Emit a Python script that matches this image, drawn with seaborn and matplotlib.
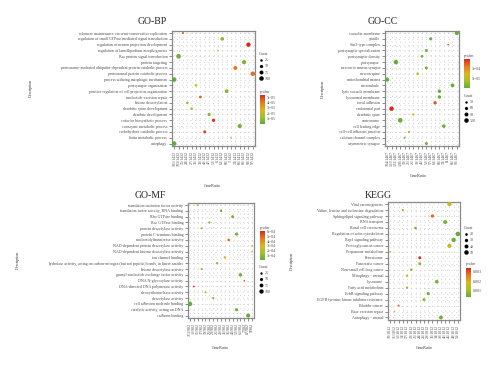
import numpy as np
import pandas as pd
import matplotlib
matplotlib.use("Agg")
import matplotlib.pyplot as plt
import seaborn as sns
from matplotlib.colors import LinearSegmentedColormap, Normalize
from matplotlib.cm import ScalarMappable
from matplotlib.lines import Line2D

# ---- GO-BP ----
bp_terms = [
    "telomere maintenance via semi-conservative replication",
    "regulation of small GTPase mediated signal transduction",
    "regulation of neuron projection development",
    "regulation of lamellipodium morphogenesis",
    "Ras protein signal transduction",
    "protein targeting",
    "proteasome-mediated ubiquitin-dependent protein catabolic process",
    "proteasomal protein catabolic process",
    "process utilizing autophagic mechanism",
    "postsynapse organization",
    "positive regulation of cell projection organization",
    "nucleotide-excision repair",
    "histone deacetylation",
    "dendritic spine development",
    "dendrite development",
    "cofactor biosynthetic process",
    "coenzyme metabolic process",
    "carbohydrate catabolic process",
    "biotin metabolic process",
    "autophagy",
]
bp_counts = [15, 63, 93, 6, 103, 88, 74, 97, 101, 31, 68, 33, 24, 27, 47, 52, 86, 41, 7, 101]
bp_pvalues = [4.6e-5, 8e-6, 5.4e-5, 2.8e-5, 3e-6, 5e-6, 4.1e-5, 4.3e-5, 1e-7, 2.2e-5,
              7e-6, 4.5e-5, 9e-6, 1.1e-5, 6e-6, 5.2e-5, 4e-6, 5e-5, 1.2e-5, 1e-7]
bp_total = 1432

# ---- GO-CC ----
cc_terms = [
    "vacuolar membrane", "spindle", "Sin3-type complex", "postsynaptic specialization",
    "postsynaptic density", "postsynapse", "neuron to neuron synapse", "neuron spine",
    "mitochondrial matrix", "microtubule", "lytic vacuole membrane", "lysosomal membrane",
    "focal adhesion", "endosomal part", "dendritic spine", "centrosome", "cell leading edge",
    "cell-cell adherens junction", "calcium channel complex", "asymmetric synapse",
]
cc_counts = [98, 57, 8, 52, 45, 123, 52, 38, 104, 85, 68, 68, 63, 121, 25, 128, 74, 21, 19, 52]
cc_pvalues = [2e-6, 8e-6, 1.45e-4, 1e-5, 1.2e-5, 3e-6, 1.1e-5, 4.5e-5, 5e-6, 6e-6,
              4e-6, 4e-6, 1.3e-4, 1.5e-4, 8.5e-5, 7e-6, 9e-6, 9.5e-5, 1.5e-5, 1.2e-5]
cc_total = 1467

# ---- GO-MF ----
mf_terms = [
    "translation initiation factor activity",
    "translation factor activity, RNA binding",
    "Rho GTPase binding",
    "Rac GTPase binding",
    "protein deacetylase activity",
    "protein C-terminus binding",
    "nucleotidyltransferase activity",
    "NAD-dependent protein deacetylase activity",
    "NAD-dependent histone deacetylase activity",
    "ion channel binding",
    "hydrolase activity, acting on carbon-nitrogen (but not peptide) bonds, in linear amides",
    "histone deacetylase activity",
    "guanyl-nucleotide exchange factor activity",
    "DNA N-glycosylase activity",
    "DNA-directed DNA polymerase activity",
    "deoxyribonuclease activity",
    "deacetylase activity",
    "cell adhesion molecule binding",
    "catalytic activity, acting on DNA",
    "cadherin binding",
]
mf_counts = [15, 28, 43, 21, 17, 52, 35, 9, 9, 31, 25, 17, 61, 7, 12, 19, 23, 113, 52, 87]
mf_pvalues = [3.3e-4, 6e-5, 4e-5, 8e-5, 9e-5, 5e-5, 4.8e-4, 3.6e-4, 2.6e-4, 3.1e-4,
              1e-4, 9e-5, 3e-5, 5.6e-4, 6.2e-4, 3e-4, 1.1e-4, 1e-6, 6e-5, 2e-6]
mf_total = 982

# ---- KEGG ----
kegg_terms = [
    "Viral carcinogenesis", "Valine, leucine and isoleucine degradation",
    "Sphingolipid signaling pathway", "RNA transport", "Renal cell carcinoma",
    "Regulation of actin cytoskeleton", "Rap1 signaling pathway", "Proteoglycans in cancer",
    "Propanoate metabolism", "Peroxisome", "Pancreatic cancer", "Non-small cell lung cancer",
    "Mitophagy - animal", "Lysosome", "Fatty acid metabolism", "ErbB signaling pathway",
    "EGFR tyrosine kinase inhibitor resistance", "Bladder cancer", "Base excision repair",
    "Autophagy - animal",
]
kegg_counts = [45, 14, 31, 41, 21, 53, 49, 45, 10, 24, 24, 19, 17, 34, 17, 29, 26, 12, 11, 38]
kegg_pvalues = [0.0015, 0.0026, 0.0027, 0.0005, 0.0006, 0.0003, 0.0004, 0.0015, 0.0025, 0.0034,
                0.0007, 0.0007, 0.0019, 0.0006, 0.0008, 0.0005, 0.0008, 0.0031, 0.0013, 0.0004]
kegg_total = 1012

sns.set_style("white")
plt.rcParams["font.family"] = ["Liberation Serif", "DejaVu Serif"]

W, H = 500, 367
fig = plt.figure(figsize=(W / 100, H / 100), dpi=100)

cmap = LinearSegmentedColormap.from_list(
    "pv", ["#63ab3d", "#a7c128", "#dcb41c", "#e8791c", "#d8281b"])
SIZES = (1.2, 11.0)
TXT = "#4d4d4d"
FS = 2.9


def rect(l, t, r, b):
    return [l / W, 1 - b / H, (r - l) / W, (b - t) / H]


def dot_panel(box, terms, counts, pvals, total):
    ax = fig.add_axes(rect(*box))
    ratio = [f"{c}/{total}" for c in counts]
    df = pd.DataFrame({"Description": terms, "GeneRatio": ratio,
                       "Count": counts, "pvalue": pvals})
    levels = sorted(set(ratio))
    df["GeneRatio"] = pd.Categorical(df["GeneRatio"], categories=levels)
    df["Description"] = pd.Categorical(df["Description"], categories=terms)
    sns.scatterplot(data=df, x="GeneRatio", y="Description", hue="pvalue", size="Count",
                    palette=cmap, hue_norm=(min(pvals), max(pvals)),
                    sizes=SIZES, size_norm=(min(counts), max(counts)),
                    linewidth=0, legend=False, ax=ax, zorder=3)
    ax.set_xlim(-0.5, len(levels) - 0.5)
    ax.set_ylim(len(terms) - 1 + 0.42, -0.35)
    ax.grid(True, color="#c4c4c4", lw=0.5, ls=(0, (1.5, 5)))
    ax.set_axisbelow(True)
    for s in ax.spines.values():
        s.set_color("#8a8a8a")
        s.set_linewidth(0.9)
    ax.tick_params(axis="both", length=2, width=0.4, color="#333333",
                   labelsize=FS, labelcolor=TXT, pad=1.5,
                   bottom=True, left=True)
    ax.tick_params(axis="x", labelrotation=90)
    ax.set_xlabel("")
    ax.set_ylabel("")
    ax.xaxis.get_offset_text().set_visible(False)
    ax.yaxis.get_offset_text().set_visible(False)
    return ax


def size_legend(x, y, counts, ticks):
    lo, hi = min(counts), max(counts)
    handles = []
    for t in ticks:
        s = SIZES[0] + (t - lo) / (hi - lo) * (SIZES[1] - SIZES[0])
        handles.append(Line2D([], [], marker="o", ls="", color="black",
                              markersize=np.sqrt(s), markeredgewidth=0))
    leg = fig.legend(handles, [str(t) for t in ticks], title="Count",
                     loc="upper left", bbox_to_anchor=(x / W, 1 - y / H),
                     frameon=False, fontsize=FS, title_fontsize=FS,
                     borderpad=0, borderaxespad=0, handlelength=0.8,
                     handletextpad=0.6, labelspacing=0.55, alignment="left")
    for t in leg.get_texts():
        t.set_color(TXT)
    leg.get_title().set_color(TXT)


def p_bar(box, pvals, ticks, labels):
    l, t, r, b = box
    fig.text(l / W, 1 - (t - 1.5) / H, "pvalue", fontsize=FS, color=TXT,
             ha="left", va="bottom")
    cax = fig.add_axes(rect(l, t, r, b))
    sm = ScalarMappable(norm=Normalize(min(pvals), max(pvals)), cmap=cmap)
    cb = fig.colorbar(sm, cax=cax)
    cb.outline.set_visible(False)
    cb.set_ticks(ticks)
    cb.set_ticklabels(labels)
    cb.ax.tick_params(length=1.2, width=0.4, color="white", direction="in",
                      labelsize=FS, labelcolor=TXT, pad=1.5)
    cb.ax.yaxis.get_offset_text().set_visible(False)
    cb.ax.xaxis.get_offset_text().set_visible(False)


def panel_text(title, tx, ty, dx, dy, gx, gy):
    fig.text(tx / W, 1 - ty / H, title, fontsize=7, color="#222222", ha="center", va="center")
    fig.text(dx / W, 1 - dy / H, "Description", fontsize=FS, color="#333333",
             rotation=90, ha="center", va="center")
    fig.text(gx / W, 1 - gy / H, "GeneRatio", fontsize=FS, color="#333333",
             ha="center", va="center")


# GO-BP
dot_panel((172, 31, 255, 146), bp_terms, bp_counts, bp_pvalues, bp_total)
panel_text("GO-BP", 152, 21, 31, 88, 212, 186)
size_legend(259, 52, bp_counts, [25, 50, 75, 100])
p_bar((260, 95, 265, 124), bp_pvalues, [1e-5, 2e-5, 3e-5, 4e-5, 5e-5],
      ["1e-05", "2e-05", "3e-05", "4e-05", "5e-05"])

# GO-CC
dot_panel((385, 31, 459, 146), cc_terms, cc_counts, cc_pvalues, cc_total)
panel_text("GO-CC", 383, 21, 323, 89, 418, 176)
p_bar((464, 59, 470, 88), cc_pvalues, [5e-5, 1e-4], ["5e-05", "1e-04"])
size_legend(464, 94, cc_counts, [30, 60, 90, 120])

# GO-MF
dot_panel((188, 203, 254, 318), mf_terms, mf_counts, mf_pvalues, mf_total)
panel_text("GO-MF", 150, 195, 18, 260, 220, 348)
p_bar((260, 231, 265, 260), mf_pvalues, [1e-4, 2e-4, 3e-4, 4e-4, 5e-4, 6e-4],
      ["1e-04", "2e-04", "3e-04", "4e-04", "5e-04", "6e-04"])
size_legend(259, 265, mf_counts, [25, 50, 75, 100])

# KEGG
dot_panel((388, 202, 460, 320), kegg_terms, kegg_counts, kegg_pvalues, kegg_total)
panel_text("KEGG", 378, 195, 292, 261, 424, 348)
size_legend(464, 226, kegg_counts, [20, 30, 40, 50])
p_bar((466, 268, 471, 297), kegg_pvalues, [0.001, 0.002, 0.003], ["0.001", "0.002", "0.003"])

fig.savefig("out.png", dpi=100)
